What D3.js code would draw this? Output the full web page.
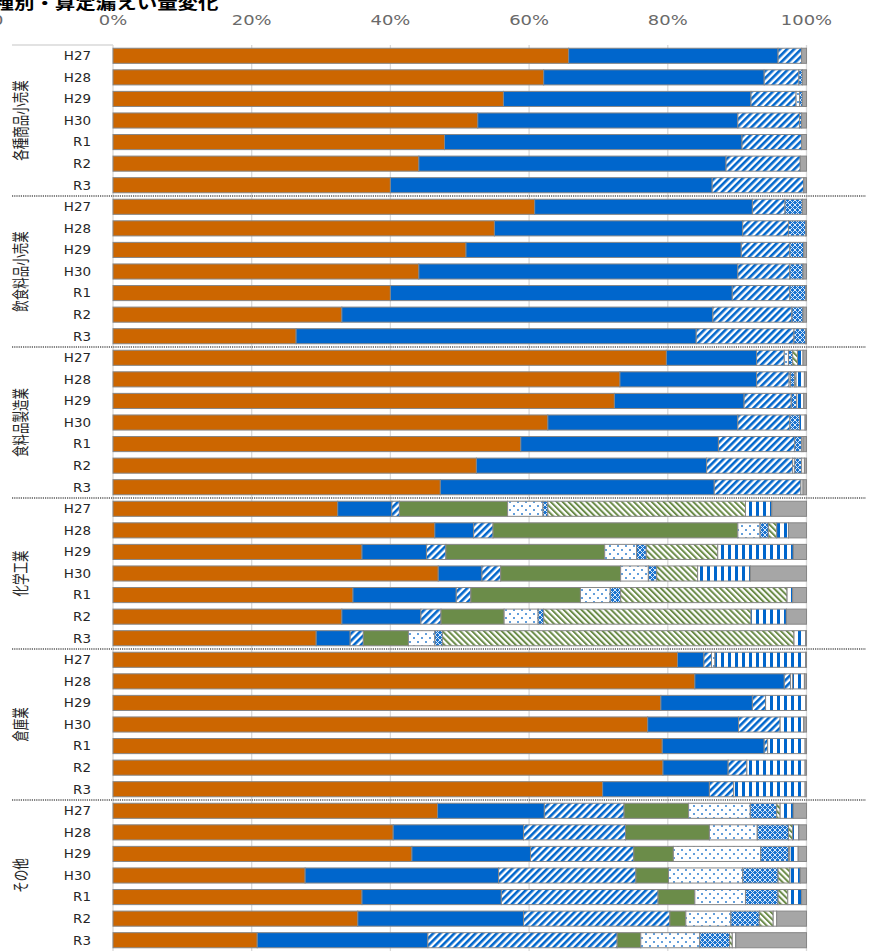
<!DOCTYPE html>
<html>
<head>
<meta charset="utf-8">
<script src="https://cdn.jsdelivr.net/npm/d3@7"></script>
<style>
  body { margin: 0; background: #fff; }
  svg { display: block; }
</style>
</head>
<body>
<div id="chart"></div>
<script>
(function(){
  'use strict';

  var groups = ['各種商品小売業', '飲食料品小売業', '食料品製造業', '化学工業', '倉庫業', 'その他'],
      years = ['H27', 'H28', 'H29', 'H30', 'R1', 'R2', 'R3'],
      tickVals = [0, 20, 40, 60, 80, 100],
      seriesKeys = ['s1', 's2', 's3', 's4', 's5', 's6', 's7', 's8', 's9'];

  // shares (%) per year, one column per series
  var kakushu = [
    [65.7, 30.2, 3.4, 0, 0, 0, 0, 0, 0.7],
    [62.1, 31.8, 5.0, 0, 0, 0.5, 0, 0, 0.6],
    [56.3, 35.7, 6.5, 0, 0.5, 0.4, 0, 0, 0.6],
    [52.6, 37.5, 8.9, 0, 0, 0.3, 0, 0, 0.7],
    [47.8, 42.9, 8.6, 0, 0, 0, 0, 0, 0.7],
    [44.1, 44.3, 10.7, 0, 0, 0, 0, 0, 0.9],
    [40.0, 46.4, 13.2, 0, 0, 0, 0, 0, 0.4]
  ];
  var inshoku = [
    [60.8, 31.4, 4.7, 0, 0, 2.5, 0, 0, 0.6],
    [55.0, 35.8, 6.6, 0, 0, 2.5, 0, 0, 0.1],
    [50.9, 39.7, 7.0, 0, 0, 2.0, 0, 0, 0.4],
    [44.1, 46.0, 7.5, 0, 0, 1.9, 0, 0, 0.5],
    [40.0, 49.3, 8.3, 0, 0, 2.3, 0, 0, 0.1],
    [33.0, 53.5, 11.4, 0, 0, 1.6, 0, 0, 0.5],
    [26.4, 57.7, 14.1, 0, 0, 1.7, 0, 0, 0.1]
  ];
  var shokuhin = [
    [79.8, 13.0, 4.0, 0, 0.6, 0.6, 0.7, 0.8, 0.5],
    [73.1, 19.7, 4.7, 0, 0.2, 0.6, 0.2, 1.2, 0.3],
    [72.3, 18.7, 6.8, 0, 0, 0.8, 0, 1.0, 0.4],
    [62.7, 27.4, 7.5, 0, 0, 1.4, 0, 0.8, 0.2],
    [58.8, 28.5, 11.0, 0, 0, 1.0, 0, 0.2, 0.5],
    [52.4, 33.2, 12.4, 0, 0.3, 1.0, 0, 0.4, 0.3],
    [47.2, 39.5, 12.5, 0, 0, 0, 0, 0.3, 0.5]
  ];
  var kagaku = [
    [32.4, 7.8, 1.1, 15.6, 5.1, 0.7, 28.5, 3.8, 5.0],
    [46.4, 5.6, 2.8, 35.3, 3.2, 1.2, 1.2, 1.7, 2.6],
    [35.9, 9.3, 2.8, 22.9, 4.6, 1.4, 10.3, 10.9, 1.9],
    [46.9, 6.3, 2.7, 17.3, 4.0, 1.2, 5.9, 7.6, 8.1],
    [34.6, 14.9, 2.1, 15.8, 4.3, 1.5, 24.0, 0.8, 2.0],
    [33.0, 11.4, 2.9, 9.1, 4.9, 0.8, 29.9, 5.1, 2.9],
    [29.3, 4.9, 1.9, 6.5, 3.8, 1.1, 50.7, 1.7, 0.1]
  ];
  var souko = [
    [81.4, 3.8, 1.1, 0, 0.5, 0, 0, 13.1, 0.1],
    [83.9, 12.9, 0.9, 0, 0.3, 0, 0, 1.7, 0.3],
    [79.0, 13.2, 1.9, 0, 0, 0, 0, 5.8, 0.1],
    [77.1, 13.1, 6.0, 0, 0, 0, 0, 3.4, 0.4],
    [79.2, 14.7, 0.5, 0, 0, 0, 0, 5.4, 0.2],
    [79.3, 9.4, 2.7, 0, 0, 0, 0, 8.4, 0.2],
    [70.6, 15.4, 3.5, 0, 0, 0, 0, 10.3, 0.2]
  ];
  var sonota = [
    [46.8, 15.4, 11.5, 9.3, 8.9, 3.8, 0.5, 1.9, 1.9],
    [40.4, 18.8, 14.7, 12.1, 6.9, 4.5, 0.6, 0.9, 1.1],
    [43.1, 17.1, 14.9, 5.7, 12.6, 4.0, 0.2, 1.2, 1.2],
    [27.7, 27.9, 19.8, 4.7, 10.7, 5.1, 1.7, 1.5, 0.9],
    [35.9, 20.1, 22.6, 5.3, 7.3, 4.7, 1.4, 2.0, 0.7],
    [35.3, 23.9, 21.1, 2.3, 6.5, 4.1, 2.0, 0.5, 4.3],
    [20.8, 24.6, 27.3, 3.4, 8.5, 4.3, 0.4, 0.5, 10.2]
  ];

  var groupVals = [kakushu, inshoku, shokuhin, kagaku, souko, sonota];

  var fills = ['#cc6600', '#0066cc', 'url(#p-bdiag)', '#6b8c49', 'url(#p-dots)',
               'url(#p-cross)', 'url(#p-gdiag)', 'url(#p-vert)', '#a6a6a6'];

  var w = 876,
      h = 951,
      latin = 'DejaVu Sans, Verdana, sans-serif',
      cjk = '"Noto Sans CJK JP", sans-serif';

  // flatten into rows
  var rows = [];
  groupVals.forEach(function(g, gi) {
    g.forEach(function(v, yi) {
      var r = {key: gi + '-' + years[yi], year: years[yi], group: gi};
      seriesKeys.forEach(function(k, si) { r[k] = v[si]; });
      rows.push(r);
    });
  });

  var stacked = d3.stack().keys(seriesKeys)(rows);

  var svg = d3.select('#chart').append('svg')
    .attr('width', w)
    .attr('height', h);

  var defs = svg.append('defs');

  function stripes(id, size, band, color, angle) {
    var p = defs.append('pattern')
      .attr('id', id)
      .attr('patternUnits', 'userSpaceOnUse')
      .attr('width', size).attr('height', size)
      .attr('patternTransform', 'rotate(' + angle + ')');
    p.append('rect').attr('width', size).attr('height', size).attr('fill', '#fff');
    p.append('rect').attr('width', band).attr('height', size).attr('fill', color);
  }
  stripes('p-bdiag', 5, 2.6, '#0066cc', 45);
  stripes('p-gdiag', 4.2, 2, '#6b8c49', -45);
  stripes('p-vert', 7, 3, '#0066cc', 0);

  var pd = defs.append('pattern')
    .attr('id', 'p-dots')
    .attr('patternUnits', 'userSpaceOnUse')
    .attr('width', 8).attr('height', 8);
  pd.append('rect').attr('width', 8).attr('height', 8).attr('fill', '#fff');
  pd.append('circle').attr('cx', 2).attr('cy', 2).attr('r', 1).attr('fill', '#2f7fd0');
  pd.append('circle').attr('cx', 6).attr('cy', 6).attr('r', 1).attr('fill', '#2f7fd0');

  var pc = defs.append('pattern')
    .attr('id', 'p-cross')
    .attr('patternUnits', 'userSpaceOnUse')
    .attr('width', 5).attr('height', 5);
  pc.append('rect').attr('width', 5).attr('height', 5).attr('fill', '#1a73cf');
  pc.append('path').attr('d', 'M0,0L5,5M5,0L0,5')
    .attr('stroke', '#dbe9f7').attr('stroke-width', 1);

  var x = d3.scaleLinear()
    .domain([0, 100])
    .range([113, 806.5]);

  var y = d3.scaleBand()
    .domain(rows.map(function(d) { return d.key; }))
    .range([45, 951])
    .paddingInner(0.3)
    .paddingOuter(0.15);

  // gridlines
  svg.append('g')
    .selectAll('line')
    .data(tickVals)
    .enter()
    .append('line')
    .attr('x1', function(d) { return x(d); })
    .attr('x2', function(d) { return x(d); })
    .attr('y1', 45)
    .attr('y2', h)
    .style('stroke', '#d9d9d9')
    .style('stroke-width', 1.3);

  // tick labels (top)
  svg.append('g')
    .selectAll('g')
    .data(tickVals)
    .enter()
    .append('g')
    .attr('transform', function(d) { return 'translate(' + x(d) + ',25) scale(1.33,1)'; })
    .append('text')
    .attr('text-anchor', 'middle')
    .style('font-family', latin)
    .style('font-size', '13.5px')
    .style('fill', '#6a6a6a')
    .text(function(d) { return d + '%'; });

  // cut-off fragment at the far left
  svg.append('g')
    .attr('transform', 'translate(3.5,25) scale(1.33,1)')
    .append('text')
    .attr('text-anchor', 'end')
    .style('font-family', latin)
    .style('font-size', '13.5px')
    .style('fill', '#6a6a6a')
    .text('0');

  // title (cut at the top left)
  svg.append('g')
    .attr('transform', 'translate(-27,9) scale(1.28,1)')
    .append('text')
    .style('font-family', cjk)
    .style('font-weight', 'bold')
    .style('font-size', '16px')
    .style('fill', '#000')
    .text('業種別・算定漏えい量変化');

  // bars
  var series = svg.append('g')
    .selectAll('g')
    .data(stacked)
    .enter()
    .append('g')
    .style('fill', function(d, i) { return fills[i]; });

  series.selectAll('rect')
    .data(function(d) { return d.filter(function(s) { return s[1] - s[0] > 0; }); })
    .enter()
    .append('rect')
    .attr('x', function(d) { return x(d[0]); })
    .attr('y', function(d) { return y(d.data.key); })
    .attr('width', function(d) { return x(d[1]) - x(d[0]); })
    .attr('height', y.bandwidth())
    .style('stroke', '#878787')
    .style('stroke-width', 1);

  // category axis
  var step = y.step(),
      top = y.range()[0];

  svg.append('line')
    .attr('x1', 12).attr('x2', x(0))
    .attr('y1', top).attr('y2', top)
    .style('stroke', '#d9d9d9')
    .style('stroke-width', 1.3);

  svg.append('g')
    .selectAll('line')
    .data(d3.range(1, groups.length))
    .enter()
    .append('line')
    .attr('x1', 12)
    .attr('x2', 866)
    .attr('y1', function(d) { return top + d * years.length * step; })
    .attr('y2', function(d) { return top + d * years.length * step; })
    .style('stroke', '#5a5a5a')
    .style('stroke-width', 1.6)
    .style('stroke-dasharray', '1.2,1');

  svg.append('g')
    .selectAll('g')
    .data(rows)
    .enter()
    .append('g')
    .attr('transform', function(d) {
      return 'translate(91,' + (y(d.key) + y.bandwidth() / 2 + 4.3) + ') scale(1.16,1)';
    })
    .append('text')
    .attr('text-anchor', 'end')
    .style('font-family', latin)
    .style('font-size', '11.6px')
    .style('fill', '#262626')
    .text(function(d) { return d.year; });

  svg.append('g')
    .selectAll('g')
    .data(groups)
    .enter()
    .append('g')
    .attr('transform', function(d, i) {
      var cy = top + (i + 0.5) * years.length * step;
      return 'translate(27,' + cy + ') scale(1.45,1) rotate(-90)';
    })
    .append('text')
    .attr('text-anchor', 'middle')
    .style('font-family', cjk)
    .style('font-size', '11.5px')
    .style('fill', '#262626')
    .text(function(d) { return d; });

}());
</script>
</body>
</html>
